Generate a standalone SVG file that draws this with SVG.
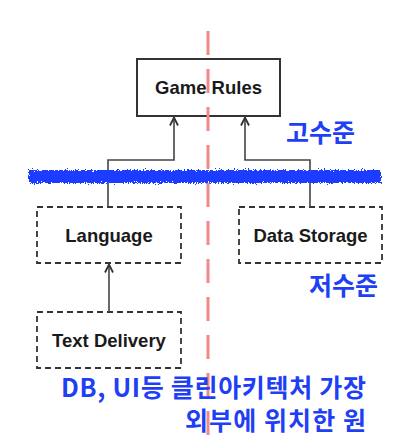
<svg xmlns="http://www.w3.org/2000/svg" width="410" height="446" viewBox="0 0 410 446">
<style>
.box{fill:#fff;stroke:#333;stroke-width:2}
.dbox{fill:#fff;stroke:#333;stroke-width:1.8;stroke-dasharray:6 4}
.lbl{font-family:"Liberation Sans",Arial,sans-serif;font-weight:700;font-size:18.5px;fill:#1a1a1a;text-anchor:middle}
.kr{font-family:"Noto Sans CJK KR","Noto Sans",sans-serif;font-weight:700;font-size:25px;fill:#1f3ff5}
.con{fill:none;stroke:#444;stroke-width:1.6}
</style>
<defs>
<marker id="arr" viewBox="0 0 10 10" refX="9" refY="5" markerWidth="10" markerHeight="10" markerUnits="userSpaceOnUse" orient="auto">
<path d="M1,1 L9,5 L1,9" fill="none" stroke="#333" stroke-width="1.8"/>
</marker>
<filter id="rough" x="-5%" y="-150%" width="110%" height="400%">
<feTurbulence type="fractalNoise" baseFrequency="0.7" numOctaves="2" seed="3" result="n"/>
<feDisplacementMap in="SourceGraphic" in2="n" scale="6" xChannelSelector="R" yChannelSelector="G"/>
</filter>
</defs>
<g id="node-game-rules">
<rect class="box" x="137" y="59" width="143" height="57"/>
<text class="lbl" x="208.5" y="94">Game Rules</text>
</g>
<g id="node-language">
<rect class="dbox" x="37" y="207" width="144" height="56"/>
<text class="lbl" x="109" y="242">Language</text>
</g>
<g id="node-data-storage">
<rect class="dbox" x="239" y="207" width="143" height="56"/>
<text class="lbl" x="310.5" y="242">Data Storage</text>
</g>
<g id="node-text-delivery">
<rect class="dbox" x="37" y="312" width="144" height="56"/>
<text class="lbl" x="109" y="347">Text Delivery</text>
</g>
<g id="connectors">
<path class="con" d="M108,207 V160 H174 V117.5" marker-end="url(#arr)"/>
<path class="con" d="M310,207 V160 H245 V117.5" marker-end="url(#arr)"/>
<path class="con" d="M109,312 V264.5" marker-end="url(#arr)"/>
</g>
<g id="boundary">
<rect x="29" y="170" width="352" height="13" fill="#1a3cff" filter="url(#rough)"/>
</g>
<line x1="208" y1="31" x2="208" y2="446" stroke="#ef8a8a" stroke-width="3" stroke-dasharray="24 14"/>
<g id="labels">
<text class="kr" x="286" y="142">고수준</text>
<text class="kr" x="309" y="295">저수준</text>
<text class="kr" x="366" y="397" text-anchor="end" textLength="305" lengthAdjust="spacing">DB, UI등 클린아키텍처 가장</text>
<text class="kr" x="366" y="430" text-anchor="end" textLength="181" lengthAdjust="spacing">외부에 위치한 원</text>
</g>
</svg>
